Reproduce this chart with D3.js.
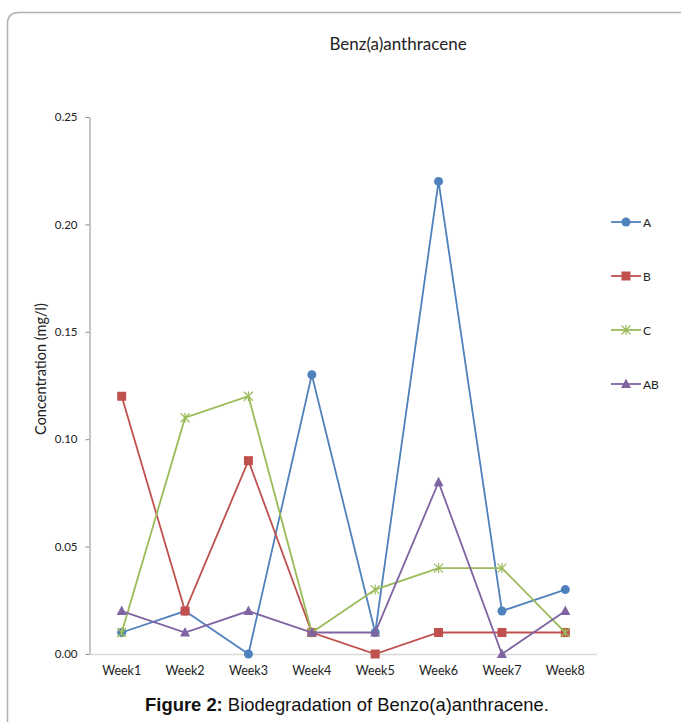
<!DOCTYPE html>
<html><head><meta charset="utf-8">
<script src="https://cdn.jsdelivr.net/npm/d3@7"></script>
<style>body{margin:0;background:#fff}svg{display:block}</style>
</head><body>
<script>
const weeks = ["Week1","Week2","Week3","Week4","Week5","Week6","Week7","Week8"];
const seriesNames = ["A","B","C","AB"];
const valuesA  = [0.01,0.02,0.00,0.13,0.01,0.22,0.02,0.03];
const valuesB  = [0.12,0.02,0.09,0.01,0.00,0.01,0.01,0.01];
const valuesC  = [0.01,0.11,0.12,0.01,0.03,0.04,0.04,0.01];
const valuesAB = [0.02,0.01,0.02,0.01,0.01,0.08,0.00,0.02];
const yTicks = [0,0.05,0.10,0.15,0.20,0.25];
const colors = ["#4F81BD","#C0504D","#9BBB59","#8064A2"];
const shapes = ["circle","square","star","triangle"];
const allValues = [valuesA,valuesB,valuesC,valuesAB];

const W=681,H=722;
const svg=d3.select("body").append("svg").attr("width",W).attr("height",H);
const font="Lato, 'Open Sans', sans-serif";

// frame
svg.append("path").attr("d","M7.5,722 L7.5,24 Q7.5,12.5 19,12.5 L681,12.5")
  .attr("fill","none").attr("stroke","#b0b0b0").attr("stroke-width",1.5);

const x=d3.scaleBand().domain(weeks).range([90,597]);
const y=d3.scaleLinear().domain([0,0.25]).range([654,117]);

// x axis line
svg.append("line").attr("x1",90).attr("x2",597).attr("y1",654.5).attr("y2",654.5)
  .attr("stroke","#d9d9d9").attr("stroke-width",1.5);

// y axis
const ya=svg.append("g").attr("transform","translate(89.5,0)")
  .call(d3.axisLeft(y).tickValues(yTicks).tickFormat(d3.format(".2f")).tickSize(4).tickSizeOuter(0));
ya.select(".domain").attr("stroke","#8c8c8c");
ya.selectAll(".tick line").attr("stroke","#8c8c8c");
ya.selectAll(".tick text").attr("font-family",font).attr("font-size",11.5).attr("fill","#222").attr("x",-12);

// x labels
const xa=svg.append("g").attr("transform","translate(0,654)")
  .call(d3.axisBottom(x).tickSize(0));
xa.select(".domain").remove();
xa.selectAll(".tick text").attr("font-family",font).attr("font-size",12.5).attr("fill","#222").attr("dy","1.4em");

// title
svg.append("text").attr("x",398).attr("y",50).attr("text-anchor","middle")
  .attr("font-family",font).attr("font-size",17).attr("fill","#222").text("Benz(a)anthracene");
// y label
svg.append("text").attr("transform","translate(46,369) rotate(-90)").attr("text-anchor","middle")
  .attr("font-family",font).attr("font-size",14.5).attr("fill","#222").text("Concentration (mg/l)");

function marker(g,shape,color,cx,cy){
  if(shape==="circle") g.append("circle").attr("cx",cx).attr("cy",cy).attr("r",4.5).attr("fill",color);
  else if(shape==="square") g.append("rect").attr("x",cx-4.5).attr("y",cy-4.5).attr("width",9).attr("height",9).attr("fill",color);
  else if(shape==="triangle") g.append("path").attr("d",`M${cx},${cy-5.5} L${cx+5},${cy+4} L${cx-5},${cy+4} Z`).attr("fill",color);
  else {
    const r=4.5;
    g.append("path").attr("d",`M${cx-r},${cy-r}L${cx+r},${cy+r}M${cx-r},${cy+r}L${cx+r},${cy-r}M${cx},${cy-r-0.5}L${cx},${cy+r+0.5}`)
      .attr("stroke",color).attr("stroke-width",1.2).attr("fill","none");
  }
}

const line=d3.line().x((d,i)=>x(weeks[i])+x.bandwidth()/2).y(d=>y(d));
allValues.forEach((vals,k)=>{
  const g=svg.append("g");
  g.append("path").attr("d",line(vals)).attr("fill","none").attr("stroke",colors[k]).attr("stroke-width",1.8);
  vals.forEach((v,i)=>marker(g,shapes[k],colors[k],x(weeks[i])+x.bandwidth()/2,y(v)));
});

// legend
seriesNames.forEach((n,k)=>{
  const ly=222+k*54;
  const g=svg.append("g");
  g.append("line").attr("x1",611).attr("x2",641).attr("y1",ly).attr("y2",ly).attr("stroke",colors[k]).attr("stroke-width",1.8);
  marker(g,shapes[k],colors[k],626,ly);
  g.append("text").attr("x",643).attr("y",ly+4.5).attr("font-family",font).attr("font-size",12).attr("fill","#222").text(n);
});

// caption
const cap=svg.append("text").attr("x",347).attr("y",711).attr("text-anchor","middle")
  .attr("font-family","'Liberation Sans', Arial, sans-serif").attr("font-size",18.4).attr("fill","#111");
cap.append("tspan").attr("font-weight","bold").text("Figure 2:");
cap.append("tspan").text(" Biodegradation of Benzo(a)anthracene.");
</script>
</body></html>
